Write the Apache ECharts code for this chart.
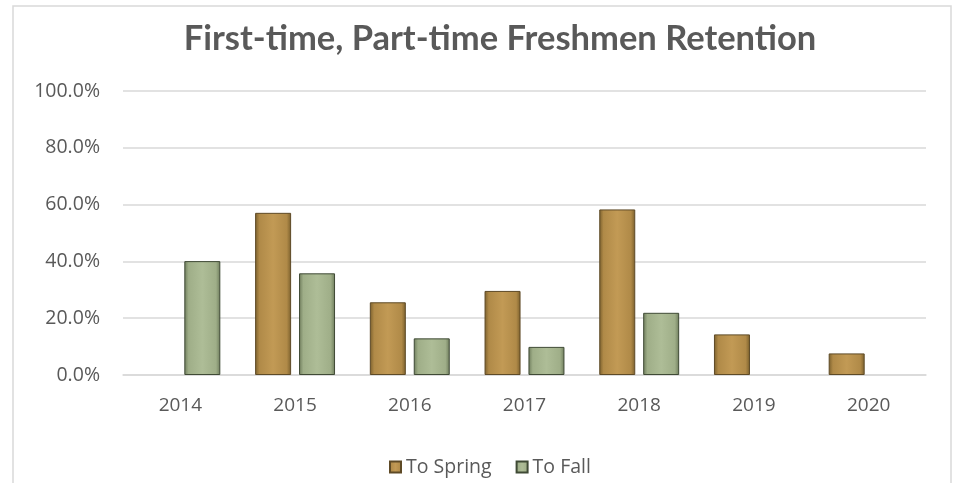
<!DOCTYPE html>
<html>
<head>
<meta charset="utf-8">
<style>
  html, body { margin: 0; padding: 0; background: #fff; }
  #chart-container { width: 954px; height: 483px; }
</style>
<script src="https://cdn.jsdelivr.net/npm/echarts@6/dist/echarts.min.js"></script>
</head>
<body>
<div id="chart-container"></div>
<script>
var years = ['2014', '2015', '2016', '2017', '2018', '2019', '2020'];
var toSpring = [null, 57.1, 25.6, 29.6, 58.3, 14.3, 7.6];
var toFall = [40.1, 35.8, 12.9, 9.9, 21.9, null, null];
var yTicks = [0, 20, 40, 60, 80, 100];

var dom = document.getElementById('chart-container');
var myChart = echarts.init(dom, null, {renderer: 'canvas'});

function bevel(dark, base, light) {
  return new echarts.graphic.LinearGradient(0, 0, 1, 0, [
    {offset: 0, color: dark},
    {offset: 0.12, color: base},
    {offset: 0.5, color: light},
    {offset: 0.88, color: base},
    {offset: 1, color: dark}
  ]);
}

var option = {
  animation: false,
  textStyle: {fontFamily: 'Open Sans'},
  title: {
    text: 'First-time, Part-time Freshmen Retention',
    left: 495,
    textAlign: 'center',
    top: 16,
    textStyle: {fontFamily: 'Lato', fontWeight: 'bold', fontSize: 34.5, color: '#595959'}
  },
  graphic: [{
    type: 'rect',
    shape: {x: 13, y: 6, width: 938, height: 490},
    style: {fill: 'none', stroke: '#d9d9d9', lineWidth: 1.5},
    silent: true
  }],
  legend: {
    data: ['To Spring', 'To Fall'],
    left: 384,
    top: 452,
    icon: 'rect',
    itemWidth: 11,
    itemHeight: 11,
    itemGap: 24,
    textStyle: {fontSize: 19.5, color: '#595959', fontFamily: 'Open Sans'}
  },
  grid: {left: 123, right: 28, top: 91, bottom: 108},
  xAxis: {
    type: 'category',
    data: years,
    axisLine: {lineStyle: {color: '#d9d9d9', width: 1.5}},
    axisTick: {show: false},
    axisLabel: {fontSize: 19, color: '#595959', margin: 21}
  },
  yAxis: {
    type: 'value',
    min: yTicks[0],
    max: yTicks[yTicks.length - 1],
    interval: 20,
    axisLine: {show: false},
    axisTick: {show: false},
    splitLine: {lineStyle: {color: '#d9d9d9', width: 1.5}},
    axisLabel: {
      fontSize: 19.5, color: '#595959', margin: 23,
      formatter: function (v) { return v.toFixed(1) + '%'; }
    }
  },
  series: [
    {
      name: 'To Spring',
      type: 'bar',
      data: toSpring,
      barWidth: 36,
      barGap: '22%',
      itemStyle: {
        color: bevel('#7a5f2c', '#b08a48', '#c29a55'),
        borderColor: '#5e4a26',
        borderWidth: 1
      }
    },
    {
      name: 'To Fall',
      type: 'bar',
      data: toFall,
      barWidth: 36,
      barGap: '22%',
      itemStyle: {
        color: bevel('#6e7c5c', '#9fae88', '#aebd97'),
        borderColor: '#3f4a35',
        borderWidth: 1
      }
    }
  ]
};

myChart.setOption(option);
window.addEventListener('resize', myChart.resize);
</script>
</body>
</html>
